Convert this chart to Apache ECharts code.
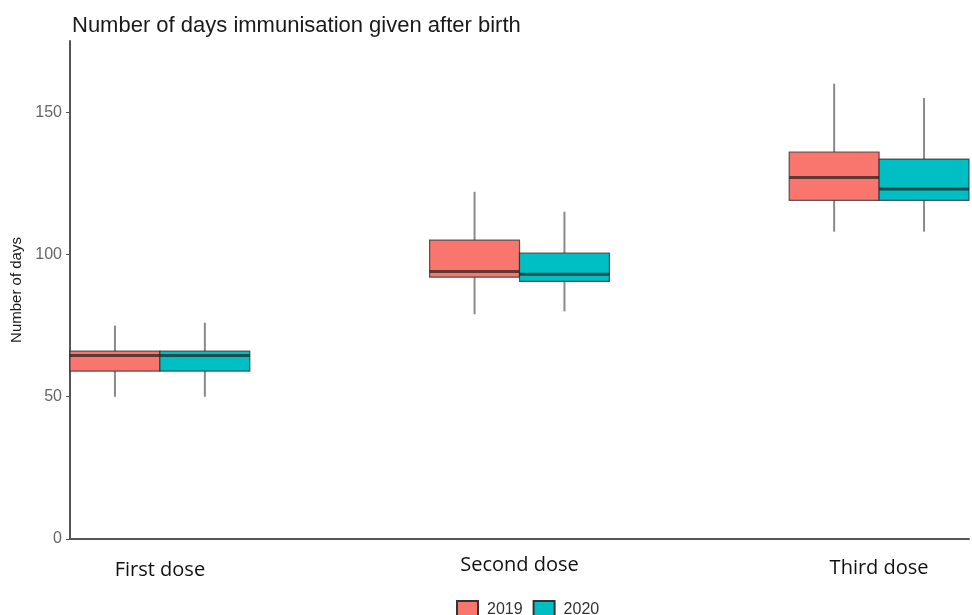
<!DOCTYPE html>
<html>
<head>
<meta charset="utf-8">
<script src="https://cdn.jsdelivr.net/npm/echarts@6/dist/echarts.min.js"></script>
<style>
  html, body { margin: 0; padding: 0; background: #fff; }
  #chart { width: 972px; height: 615px; }
</style>
</head>
<body>
<div id="chart"></div>
<script>
// Dose categories along the x axis
const categories = ['First dose', 'Second dose', 'Third dose'];
// Legend / series names
const years = ['2019', '2020'];
// Box summaries per dose: [lower whisker, Q1, median, Q3, upper whisker]
const box2019 = [
  [50, 59, 64.5, 66, 75],
  [79, 92, 94, 105, 122],
  [108, 119, 127, 136, 160]
];
const box2020 = [
  [50, 59, 64.5, 66, 76],
  [80, 90.5, 93, 100.5, 115],
  [108, 119, 123, 133.5, 155]
];
// Y axis ticks
const yTicks = [0, 50, 100, 150];

const fills = ['#F8766D', '#00BFC4'];
const dodge = [-0.125, 0.125];
const boxWidth = 0.25;

function makeRender(offset, fill) {
  return function (params, api) {
    const xc = api.value(0) + offset;
    const lo = api.coord([xc, api.value(1)]);
    const q1 = api.coord([xc, api.value(2)]);
    const md = api.coord([xc, api.value(3)]);
    const q3 = api.coord([xc, api.value(4)]);
    const hi = api.coord([xc, api.value(5)]);
    const w = api.size([boxWidth, 0])[0];
    const left = lo[0] - w / 2;
    const whisker = { stroke: '#8a8a8a', lineWidth: 2 };
    return {
      type: 'group',
      children: [
        { type: 'line', shape: { x1: hi[0], y1: hi[1], x2: q3[0], y2: q3[1] }, style: whisker },
        { type: 'line', shape: { x1: q1[0], y1: q1[1], x2: lo[0], y2: lo[1] }, style: whisker },
        {
          type: 'rect',
          shape: { x: left, y: q3[1], width: w, height: q1[1] - q3[1] },
          style: { fill: fill, stroke: 'rgba(40,40,40,0.75)', lineWidth: 1.2 }
        },
        {
          type: 'line',
          shape: { x1: left, y1: md[1], x2: left + w, y2: md[1] },
          style: { stroke: 'rgba(30,30,30,0.7)', lineWidth: 3 }
        }
      ]
    };
  };
}

function toData(boxes) {
  return boxes.map((b, i) => [i, b[0], b[1], b[2], b[3], b[4]]);
}

const allBoxes = [box2019, box2020];
const series = years.map((name, k) => ({
  name: name,
  type: 'custom',
  renderItem: makeRender(dodge[k], fills[k]),
  encode: { x: 0, y: [1, 2, 3, 4, 5] },
  itemStyle: { color: fills[k], borderColor: '#333', borderWidth: 1 },
  data: toData(allBoxes[k])
}));

const labelStyles = ['c0', 'c1', 'c2'];

const chart = echarts.init(document.getElementById('chart'), null, { renderer: 'canvas' });
chart.setOption({
  animation: false,
  backgroundColor: '#ffffff',
  title: {
    text: 'Number of days immunisation given after birth',
    left: 67,
    top: 10,
    textStyle: { fontFamily: 'Liberation Sans', fontSize: 22, fontWeight: 'normal', color: '#1a1a1a' }
  },
  legend: {
    data: years,
    left: 451,
    top: 595,
    icon: 'rect',
    itemWidth: 21,
    itemHeight: 17,
    itemGap: 10,
    textStyle: { fontFamily: 'Liberation Sans', fontSize: 16, color: '#333', padding: [0, 0, 0, 4] }
  },
  grid: { left: 70, right: 0, top: 41, bottom: 76, containLabel: false },
  xAxis: {
    type: 'value',
    min: -0.25,
    max: 2.25,
    interval: 0.25,
    splitLine: { show: false },
    axisTick: { show: false },
    axisLine: { onZero: false, lineStyle: { color: '#555', width: 2 } },
    axisLabel: {
      margin: 16,
      showMinLabel: true,
      showMaxLabel: true,
      formatter: function (v) {
        const i = Math.round(v);
        if (Math.abs(v - i) > 1e-6 || i < 0 || i >= categories.length) return '';
        return '{' + labelStyles[i] + '|' + categories[i] + '}';
      },
      rich: {
        c0: { fontFamily: 'Open Sans', fontSize: 20, color: '#111', padding: [5, 0, 0, 0] },
        c1: { fontFamily: 'Open Sans', fontSize: 20, color: '#111', padding: [0, 0, 0, 0] },
        c2: { fontFamily: 'Open Sans', fontSize: 20, color: '#111', padding: [3, 0, 0, 0] }
      }
    }
  },
  yAxis: {
    type: 'value',
    min: 0,
    max: 175,
    interval: 50,
    name: 'Number of days',
    nameLocation: 'middle',
    nameGap: 40,
    nameTextStyle: { fontFamily: 'Liberation Sans', fontSize: 15, color: '#1a1a1a' },
    splitLine: { show: false },
    axisLine: { show: true, onZero: false, lineStyle: { color: '#555', width: 2 } },
    axisTick: { show: true, length: 4, customValues: yTicks, lineStyle: { color: '#555', width: 1 } },
    axisLabel: {
      margin: 8,
      fontFamily: 'Liberation Sans',
      fontSize: 16,
      color: '#666',
      customValues: yTicks,
      formatter: function (v) { return yTicks.indexOf(v) >= 0 ? String(v) : ''; }
    }
  },
  series: series
});
</script>
</body>
</html>
